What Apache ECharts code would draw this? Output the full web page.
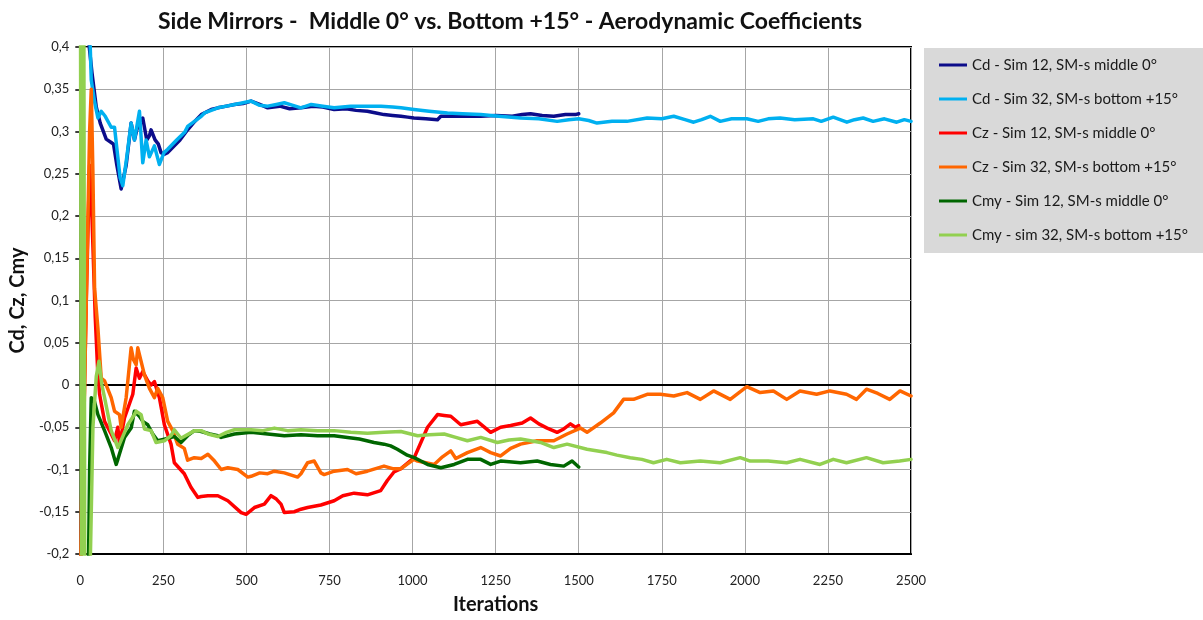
<!DOCTYPE html>
<html>
<head>
<meta charset="utf-8">
<title>Side Mirrors - Aerodynamic Coefficients</title>
<script src="https://cdn.jsdelivr.net/npm/echarts@6/dist/echarts.min.js"></script>
<style>
  html, body { margin: 0; padding: 0; background: #fff; }
  #chart { width: 1203px; height: 620px; }
</style>
</head>
<body>
<div id="chart"></div>
<script>
// ---- data: [iteration, coefficient] ----
const seriesNames = [
  'Cd - Sim 12, SM-s middle 0°',
  'Cd - Sim 32, SM-s bottom +15°',
  'Cz - Sim 12, SM-s middle 0°',
  'Cz - Sim 32, SM-s bottom +15°',
  'Cmy - Sim 12, SM-s middle 0°',
  'Cmy - sim 32, SM-s bottom +15°'
];

const cdSim12 = [[20,0.5],[27,0.40],[35,0.37],[48,0.329],[60,0.31],[78,0.291],[93,0.287],[100,0.285],[110,0.26],[123,0.232],[128,0.23],[138,0.26],[153,0.31],[163,0.29],[175,0.31],[188,0.316],[193,0.316],[200,0.29],[208,0.295],[213,0.302],[218,0.302],[225,0.29],[235,0.285],[243,0.275],[252,0.273],[263,0.275],[280,0.282],[300,0.29],[323,0.302],[340,0.31],[364,0.32],[394,0.326],[414,0.328],[440,0.33],[464,0.332],[490,0.333],[514,0.336],[540,0.332],[564,0.328],[600,0.33],[630,0.327],[664,0.328],[700,0.33],[730,0.329],[764,0.326],[800,0.327],[830,0.325],[864,0.324],[890,0.322],[914,0.32],[940,0.319],[965,0.318],[985,0.317],[1004,0.316],[1040,0.315],[1075,0.314],[1085,0.318],[1120,0.318],[1160,0.318],[1205,0.318],[1250,0.319],[1300,0.318],[1330,0.32],[1355,0.321],[1390,0.319],[1425,0.318],[1460,0.32],[1490,0.32],[1500,0.321]];

const cdSim32 = [[22,0.5],[33,0.361],[43,0.335],[53,0.316],[63,0.324],[75,0.318],[93,0.305],[103,0.305],[110,0.28],[120,0.245],[128,0.236],[140,0.27],[153,0.31],[163,0.29],[178,0.324],[188,0.263],[198,0.29],[208,0.27],[223,0.283],[238,0.261],[252,0.275],[263,0.279],[290,0.29],[314,0.299],[323,0.306],[364,0.318],[374,0.322],[414,0.328],[440,0.33],[464,0.332],[490,0.334],[514,0.336],[540,0.331],[564,0.33],[590,0.332],[614,0.334],[640,0.331],[664,0.328],[695,0.332],[730,0.33],[764,0.328],[814,0.33],[864,0.33],[905,0.33],[940,0.329],[965,0.328],[1004,0.326],[1050,0.324],[1105,0.322],[1150,0.321],[1205,0.32],[1260,0.318],[1325,0.316],[1380,0.315],[1435,0.312],[1470,0.314],[1500,0.315],[1530,0.313],[1555,0.31],[1600,0.312],[1645,0.312],[1706,0.316],[1750,0.315],[1786,0.318],[1820,0.314],[1846,0.311],[1870,0.314],[1896,0.318],[1926,0.312],[1960,0.315],[2006,0.315],[2040,0.312],[2070,0.315],[2106,0.316],[2150,0.314],[2206,0.315],[2230,0.312],[2266,0.317],[2307,0.311],[2330,0.314],[2356,0.316],[2386,0.312],[2420,0.315],[2457,0.311],[2480,0.314],[2500,0.312]];

const czSim12 = [[0,-0.25],[3,-0.145],[10,-0.05],[18,0.1],[28,0.26],[35,0.2],[45,0.08],[52,0.02],[58,-0.011],[73,-0.043],[93,-0.058],[103,-0.066],[113,-0.05],[118,-0.07],[133,-0.039],[158,-0.011],[168,0.02],[178,0.008],[188,0.016],[203,0.005],[213,0.0],[223,0.004],[238,-0.015],[253,-0.047],[273,-0.07],[283,-0.092],[313,-0.105],[333,-0.121],[354,-0.133],[364,-0.132],[384,-0.131],[414,-0.131],[444,-0.137],[484,-0.151],[499,-0.153],[524,-0.145],[554,-0.141],[574,-0.131],[590,-0.135],[604,-0.141],[614,-0.151],[644,-0.15],[664,-0.147],[684,-0.145],[724,-0.142],[764,-0.137],[790,-0.131],[824,-0.128],[864,-0.13],[904,-0.125],[924,-0.113],[944,-0.103],[965,-0.099],[1005,-0.086],[1025,-0.068],[1045,-0.05],[1075,-0.035],[1095,-0.036],[1115,-0.037],[1145,-0.047],[1170,-0.045],[1195,-0.043],[1235,-0.056],[1265,-0.05],[1295,-0.048],[1330,-0.045],[1355,-0.039],[1380,-0.046],[1405,-0.051],[1435,-0.056],[1455,-0.052],[1475,-0.046],[1490,-0.05],[1500,-0.048]];

const czSim32 = [[0,-0.25],[8,-0.1],[18,0.1],[28,0.3],[33,0.35],[38,0.25],[43,0.114],[53,0.067],[63,0.008],[73,0.005],[93,-0.015],[103,-0.031],[118,-0.035],[123,-0.05],[138,-0.015],[153,0.044],[160,0.03],[168,0.024],[173,0.044],[178,0.044],[193,0.012],[208,-0.004],[223,-0.015],[233,-0.004],[248,-0.015],[263,-0.043],[278,-0.054],[293,-0.07],[313,-0.075],[323,-0.089],[343,-0.086],[364,-0.087],[384,-0.082],[404,-0.09],[424,-0.1],[444,-0.098],[474,-0.1],[504,-0.109],[514,-0.108],[540,-0.104],[564,-0.105],[584,-0.102],[614,-0.104],[654,-0.109],[664,-0.105],[684,-0.092],[704,-0.09],[724,-0.104],[734,-0.106],[764,-0.102],[804,-0.1],[830,-0.105],[864,-0.102],[914,-0.096],[940,-0.099],[965,-0.099],[1004,-0.088],[1015,-0.09],[1065,-0.094],[1090,-0.085],[1115,-0.078],[1130,-0.087],[1165,-0.08],[1205,-0.074],[1235,-0.08],[1265,-0.084],[1295,-0.075],[1325,-0.07],[1375,-0.066],[1425,-0.066],[1465,-0.058],[1505,-0.051],[1525,-0.056],[1565,-0.045],[1605,-0.033],[1635,-0.017],[1665,-0.017],[1706,-0.011],[1746,-0.011],[1786,-0.013],[1826,-0.009],[1866,-0.017],[1906,-0.007],[1956,-0.017],[2006,-0.002],[2046,-0.009],[2086,-0.007],[2126,-0.017],[2166,-0.007],[2216,-0.011],[2256,-0.007],[2306,-0.011],[2336,-0.017],[2366,-0.005],[2400,-0.01],[2436,-0.017],[2467,-0.007],[2500,-0.013]];

const cmySim12 = [[0,-0.3],[22,-0.3],[28,-0.1],[33,-0.015],[43,-0.02],[53,-0.035],[73,-0.054],[93,-0.074],[108,-0.094],[113,-0.088],[133,-0.062],[153,-0.051],[163,-0.031],[168,-0.031],[178,-0.037],[188,-0.043],[203,-0.047],[218,-0.058],[233,-0.066],[253,-0.064],[283,-0.061],[303,-0.068],[323,-0.06],[343,-0.054],[364,-0.055],[390,-0.058],[414,-0.06],[424,-0.062],[464,-0.058],[514,-0.056],[564,-0.058],[614,-0.06],[664,-0.059],[714,-0.06],[764,-0.06],[804,-0.062],[840,-0.064],[884,-0.068],[914,-0.07],[934,-0.072],[954,-0.076],[984,-0.083],[1005,-0.086],[1025,-0.09],[1045,-0.094],[1085,-0.098],[1125,-0.094],[1165,-0.088],[1205,-0.088],[1235,-0.094],[1265,-0.09],[1325,-0.092],[1375,-0.09],[1415,-0.094],[1455,-0.096],[1480,-0.09],[1500,-0.097]];

const cmySim32 = [[0,0.6],[5,-0.6],[10,0.6],[15,-0.6],[22,-0.5],[28,-0.25],[38,-0.05],[48,0.01],[56,0.028],[65,0.0],[73,-0.015],[93,-0.054],[113,-0.074],[118,-0.07],[143,-0.047],[163,-0.035],[168,-0.031],[183,-0.035],[193,-0.052],[213,-0.054],[228,-0.068],[253,-0.066],[273,-0.06],[283,-0.053],[303,-0.063],[344,-0.054],[364,-0.054],[384,-0.058],[414,-0.061],[440,-0.056],[464,-0.053],[514,-0.053],[550,-0.054],[584,-0.051],[624,-0.054],[664,-0.053],[714,-0.054],[764,-0.054],[814,-0.056],[864,-0.057],[914,-0.056],[965,-0.055],[1015,-0.06],[1050,-0.059],[1095,-0.058],[1130,-0.062],[1165,-0.066],[1205,-0.062],[1255,-0.068],[1290,-0.065],[1325,-0.064],[1385,-0.068],[1425,-0.074],[1465,-0.07],[1525,-0.076],[1585,-0.08],[1615,-0.083],[1655,-0.086],[1690,-0.088],[1725,-0.092],[1765,-0.088],[1806,-0.092],[1866,-0.09],[1926,-0.092],[1986,-0.086],[2016,-0.09],[2070,-0.09],[2126,-0.092],[2166,-0.088],[2226,-0.094],[2266,-0.088],[2306,-0.092],[2366,-0.086],[2416,-0.092],[2466,-0.09],[2500,-0.088]];

// ---- axis ticks ----
const xTicks = [0, 250, 500, 750, 1000, 1250, 1500, 1750, 2000, 2250, 2500];
const yTickLabels = ['-0,2','-0,15','-0,1','-0,05','0','0,05','0,1','0,15','0,2','0,25','0,3','0,35','0,4'];

const lineColors = ['#0c0c8a', '#00b0f0', '#ff0000', '#ff6600', '#006600', '#92d050'];
const seriesData = [cdSim12, cdSim32, czSim12, czSim32, cmySim12, cmySim32];

const FONT = 'Lato, "Liberation Sans", sans-serif';
const chart = echarts.init(document.getElementById('chart'), null, { renderer: 'canvas' });

const series = seriesData.map((d, i) => ({
  name: seriesNames[i],
  type: 'line',
  data: d,
  showSymbol: false,
  symbol: 'none',
  clip: true,
  itemStyle: { color: lineColors[i] },
  lineStyle: { width: 3.5, color: lineColors[i], opacity: 1, join: 'round', cap: 'round' },
  z: 3 + i
}));

// zero reference line
series[0].markLine = {
  silent: true,
  symbol: ['none', 'none'],
  label: { show: false },
  lineStyle: { color: '#000', width: 2, type: 'solid' },
  data: [{ yAxis: 0 }],
  z: 2
};

chart.setOption({
  animation: false,
  backgroundColor: '#ffffff',
  color: lineColors,
  title: {
    text: 'Side Mirrors -  Middle 0° vs. Bottom +15° - Aerodynamic Coefficients',
    left: 505,
    textAlign: 'center',
    top: 5,
    textStyle: { fontFamily: FONT, fontSize: 23, fontWeight: 'bold', color: '#111' }
  },
  graphic: [{
    type: 'rect',
    shape: { x: 924, y: 48, width: 279, height: 205 },
    style: { fill: '#d9d9d9' },
    z: 0
  }],
  legend: {
    orient: 'vertical',
    left: 934,
    top: 52,
    itemWidth: 28,
    itemHeight: 3,
    itemGap: 18,
    icon: 'rect',
    data: seriesNames,
    textStyle: { fontFamily: FONT, fontSize: 15, color: '#1a1a1a', lineHeight: 16 },
    z: 5
  },
  grid: {
    left: 79, right: 292, top: 47, bottom: 63,
    show: true, borderColor: '#000', borderWidth: 2,
    containLabel: false
  },
  xAxis: {
    type: 'value',
    min: 0, max: 2500, interval: 250,
    name: 'Iterations',
    nameLocation: 'middle',
    nameGap: 41,
    nameTextStyle: { fontFamily: FONT, fontSize: 20, fontWeight: 'bold', color: '#111' },
    axisLine: { show: true, onZero: false, lineStyle: { color: '#000', width: 2 } },
    axisTick: { show: false },
    axisLabel: {
      margin: 20, fontFamily: FONT, fontSize: 13, color: '#222',
      formatter: v => (xTicks.indexOf(v) >= 0 ? String(v) : '')
    },
    splitLine: { show: true, lineStyle: { color: '#a6a6a6', width: 1 } }
  },
  yAxis: {
    type: 'value',
    min: -0.2, max: 0.4, interval: 0.05,
    name: 'Cd, Cz, Cmy',
    nameLocation: 'middle',
    nameRotate: 90,
    nameGap: 51,
    nameTextStyle: { fontFamily: FONT, fontSize: 20, fontWeight: 'bold', color: '#111' },
    axisLine: { show: true, onZero: false, lineStyle: { color: '#000', width: 2 } },
    axisTick: { show: true, inside: false, length: 5, lineStyle: { color: '#000', width: 1.5 } },
    axisLabel: {
      margin: 11, fontFamily: FONT, fontSize: 13, color: '#222',
      formatter: v => {
        const idx = Math.round((v + 0.2) / 0.05);
        return yTickLabels[idx] !== undefined ? yTickLabels[idx] : '';
      }
    },
    splitLine: { show: true, lineStyle: { color: '#a6a6a6', width: 1 } }
  },
  series: series
});
</script>
</body>
</html>
